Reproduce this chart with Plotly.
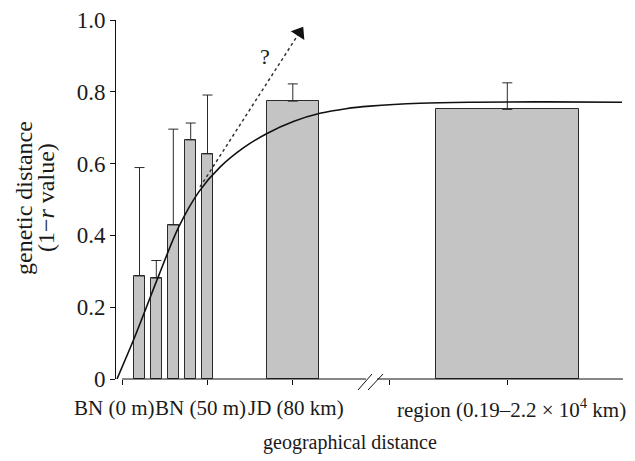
import math
import plotly.graph_objects as go

# ---- data ----
x_labels = ["BN (0 m)", "BN (50 m)", "JD (80 km)", "region (0.19–2.2 × 10<sup>4</sup> km)"]
bar_values = [0.287, 0.281, 0.429, 0.666, 0.627, 0.774, 0.751]
bar_upper = [0.589, 0.330, 0.696, 0.713, 0.791, 0.822, 0.825]   # top of error bars

curve_x = [1, 18, 30, 43, 63, 83, 104, 128, 151, 178, 204, 230, 254, 304, 360, 430, 506]
curve_y = [0.0, 0.112, 0.197, 0.290, 0.425, 0.522, 0.590, 0.645, 0.684, 0.718, 0.740,
           0.753, 0.760, 0.768, 0.771, 0.772, 0.771]

trend_x = [84, 186.7]
trend_y = [0.535, 0.979]

y_ticks = [0, 0.2, 0.4, 0.6, 0.8, 1.0]
y_ticktext = ["0", "0.2", "0.4", "0.6", "0.8", "1.0"]

# ---- layout (page shows the figure offset by the 8px body margin) ----
PAGE_OFF = 8
PLOT_L, PLOT_R, PLOT_T, PLOT_B = 116, 623, 20, 379     # plot area in window pixels
W, H = 635 - PAGE_OFF, 461 - PAGE_OFF
X_MAX = PLOT_R - PLOT_L
Y_SPAN = PLOT_B - PLOT_T

bar_x = [23.5, 40.3, 57.3, 74.7, 91.5, 176.8, 391.3]
bar_w = [10.5, 10.5, 10.5, 10.8, 11.0, 52.3, 142.5]
tick_x = [6, 91, 176, 273, 391]
label_x = [-2, 84, 180, 395]

FONT = "Liberation Serif, Times New Roman, serif"
INK = "#1a1a1a"


def px_x(p):
    return (p - PLOT_L) / X_MAX


def px_y(p):
    return (PLOT_B - p) / Y_SPAN


fig = go.Figure()

fig.add_trace(go.Bar(
    x=bar_x, y=bar_values, width=bar_w,
    marker=dict(color="#c4c4c4", line=dict(color="#2a2a2a", width=1)),
    error_y=dict(type="data", symmetric=False,
                 array=[u - v for u, v in zip(bar_upper, bar_values)],
                 arrayminus=[0] * len(bar_values),
                 color="#2a2a2a", thickness=1, width=5),
    cliponaxis=False,
))

fig.add_trace(go.Scatter(
    x=curve_x, y=curve_y, mode="lines",
    line=dict(color="#111111", width=1.6, shape="spline", smoothing=1.0),
    cliponaxis=False,
))

# dotted trend line ending in a filled arrow head
dx_px = trend_x[1] - trend_x[0]
dy_px = (trend_y[1] - trend_y[0]) * Y_SPAN
L = math.hypot(dx_px, dy_px)
ux, uy = dx_px / L, dy_px / L
head_back = 6.0
head_x = trend_x[1] - ux * head_back
head_y = trend_y[1] - uy * head_back / Y_SPAN
angle = math.degrees(math.atan2(ux, uy))

fig.add_trace(go.Scatter(
    x=[trend_x[0], head_x], y=[trend_y[0], head_y], mode="lines",
    line=dict(color="#333333", width=1.5, dash="dot"),
    cliponaxis=False,
))
fig.add_trace(go.Scatter(
    x=[head_x], y=[head_y], mode="markers",
    marker=dict(symbol="triangle-up", size=14, angle=angle, color="#111111",
                line=dict(width=0)),
    cliponaxis=False,
))

fig.add_annotation(
    x=149, y=0.898, xref="x", yref="y", text="?", showarrow=False,
    font=dict(family=FONT, size=22, color=INK),
)

# x tick labels (placed as in the reference, slightly off their tick marks)
for lx, lt in zip(label_x, x_labels):
    fig.add_annotation(
        x=lx / X_MAX, y=px_y(408), xref="paper", yref="paper", text=lt, showarrow=False,
        font=dict(family=FONT, size=21, color=INK), xanchor="center", yanchor="middle",
    )

# y-axis title (two lines, tight leading as in the reference)
fig.add_annotation(
    x=px_x(24), y=px_y(198), xref="paper", yref="paper",
    text="genetic distance", textangle=-90, showarrow=False,
    font=dict(family=FONT, size=24, color=INK), xanchor="center", yanchor="middle",
)
fig.add_annotation(
    x=px_x(46), y=px_y(198), xref="paper", yref="paper",
    text="(1−<i>r</i> value)", textangle=-90, showarrow=False,
    font=dict(family=FONT, size=24, color=INK), xanchor="center", yanchor="middle",
)
# x-axis title
fig.add_annotation(
    x=px_x(350), y=px_y(442), xref="paper", yref="paper",
    text="geographical distance", showarrow=False,
    font=dict(family=FONT, size=20, color=INK), xanchor="center", yanchor="middle",
)

# x-axis line with a break
line_style = dict(color="#111111", width=1)
fig.add_shape(type="line", xref="x", yref="paper", x0=6, x1=250, y0=0, y1=0, line=line_style)
fig.add_shape(type="line", xref="x", yref="paper", x0=261, x1=X_MAX, y0=0, y1=0, line=line_style)
fig.add_shape(type="line", xref="x", yref="paper", x0=242, x1=256, y0=px_y(390), y1=px_y(374), line=line_style)
fig.add_shape(type="line", xref="x", yref="paper", x0=252, x1=267, y0=px_y(390), y1=px_y(374), line=line_style)

fig.update_xaxes(
    range=[0, X_MAX], showline=False, showgrid=False, zeroline=False,
    tickmode="array", tickvals=tick_x, showticklabels=False,
    ticks="outside", ticklen=5, tickcolor="#111111", tickwidth=1,
    automargin=False,
)
fig.update_yaxes(
    range=[0, 1], showline=True, linecolor="#111111", linewidth=1,
    showgrid=False, zeroline=False,
    tickmode="array", tickvals=y_ticks, ticktext=y_ticktext,
    ticks="outside", ticklen=5, tickcolor="#111111", tickwidth=1,
    tickfont=dict(family=FONT, size=23, color=INK),
    automargin=False,
)

fig.update_layout(
    width=W, height=H,
    margin=dict(l=PLOT_L - PAGE_OFF, r=635 - PLOT_R, t=PLOT_T - PAGE_OFF, b=461 - PLOT_B),
    paper_bgcolor="white", plot_bgcolor="white",
    showlegend=False, bargap=0,
)

fig.write_html("out.html")
